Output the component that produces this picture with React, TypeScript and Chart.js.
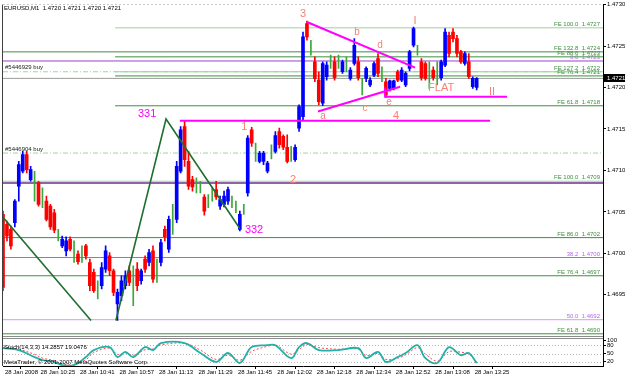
import React, { useEffect, useRef } from 'react';
import { Chart, registerables } from 'chart.js';

Chart.register(...registerables);

// ---------------- data (EURUSD M1, bars numbered 1..121) ----------------
const opens = [
  1.47047, 1.47035, 1.47029, 1.47037, 1.47081, 1.47099, 1.47119, 1.47089, 1.47081, 1.47085,
  1.47069, 1.47063, 1.47057, 1.47049, 1.47021, 1.47009, 1.47003, 1.47017, 1.47003, 1.46999,
  1.46999, 1.47009, 1.46989, 1.46977, 1.46957, 1.46961, 1.46981, 1.46997, 1.46979, 1.46939,
  1.46949, 1.46961, 1.46979, 1.46961, 1.46981, 1.46967, 1.46993, 1.46989, 1.47003, 1.46979,
  1.46989, 1.47029, 1.47005, 1.47041, 1.47041, 1.47099, 1.47153, 1.47111, 1.47089, 1.47081,
  1.47080, 1.47068, 1.47063, 1.47071, 1.47077, 1.47057, 1.47059, 1.47063, 1.47063, 1.47057,
  1.47029, 1.47053, 1.47073, 1.47149, 1.47123, 1.47111, 1.47111, 1.47099, 1.47123, 1.47123,
  1.47147, 1.47141, 1.47128, 1.47121, 1.47113, 1.47151, 1.47165, 1.47277, 1.47249, 1.47231,
  1.47209, 1.47181, 1.47213, 1.47231, 1.47231, 1.47231, 1.47219, 1.47229, 1.47211, 1.47229,
  1.47231, 1.47201, 1.47211, 1.47203, 1.47215, 1.47235, 1.47217, 1.47207, 1.47199, 1.47199,
  1.47219, 1.47209, 1.47203, 1.47223, 1.47251, 1.47245, 1.47231, 1.47229, 1.47215, 1.47221,
  1.47217, 1.47212, 1.47227, 1.47263, 1.47267, 1.47259, 1.47243, 1.47229, 1.47231, 1.47201,
  1.47200,
];
const highs = [
  1.47051, 1.47039, 1.47033, 1.47065, 1.47111, 1.47123, 1.47123, 1.47105, 1.47099, 1.47087,
  1.47079, 1.47069, 1.47059, 1.47053, 1.47029, 1.47021, 1.47020, 1.47020, 1.47015, 1.47003,
  1.47009, 1.47011, 1.46993, 1.46981, 1.46967, 1.46989, 1.47009, 1.47001, 1.46981, 1.46957,
  1.46973, 1.46979, 1.46985, 1.46985, 1.46989, 1.46981, 1.46997, 1.47005, 1.47009, 1.46993,
  1.47017, 1.47033, 1.47045, 1.47059, 1.47111, 1.47153, 1.47160, 1.47123, 1.47093, 1.47091,
  1.47087, 1.47071, 1.47071, 1.47080, 1.47087, 1.47069, 1.47075, 1.47080, 1.47069, 1.47063,
  1.47051, 1.47059, 1.47142, 1.47152, 1.47133, 1.47123, 1.47123, 1.47111, 1.47131, 1.47147,
  1.47151, 1.47143, 1.47143, 1.47129, 1.47131, 1.47179, 1.47267, 1.47280, 1.47257, 1.47237,
  1.47219, 1.47231, 1.47231, 1.47239, 1.47237, 1.47239, 1.47233, 1.47237, 1.47224, 1.47259,
  1.47237, 1.47211, 1.47225, 1.47212, 1.47231, 1.47241, 1.47225, 1.47211, 1.47209, 1.47209,
  1.47221, 1.47224, 1.47219, 1.47245, 1.47273, 1.47251, 1.47235, 1.47231, 1.47231, 1.47225,
  1.47231, 1.47233, 1.47271, 1.47267, 1.47271, 1.47263, 1.47245, 1.47243, 1.47241, 1.47213,
  1.47212,
];
const lows = [
  1.46955, 1.47015, 1.47005, 1.47032, 1.47063, 1.47097, 1.47097, 1.47087, 1.47063, 1.47057,
  1.47055, 1.47039, 1.47029, 1.47025, 1.47015, 1.47007, 1.46997, 1.47003, 1.46989, 1.46987,
  1.46989, 1.46993, 1.46955, 1.46953, 1.46945, 1.46957, 1.46977, 1.46973, 1.46949, 1.46919,
  1.46943, 1.46957, 1.46961, 1.46937, 1.46955, 1.46963, 1.46977, 1.46985, 1.46965, 1.46965,
  1.46985, 1.47015, 1.47001, 1.47023, 1.47037, 1.47097, 1.47105, 1.47077, 1.47075, 1.47073,
  1.47073, 1.47046, 1.47055, 1.47063, 1.47065, 1.47053, 1.47056, 1.47059, 1.47055, 1.47049,
  1.47027, 1.47047, 1.47069, 1.47129, 1.47111, 1.47109, 1.47107, 1.47097, 1.47114, 1.47121,
  1.47127, 1.47125, 1.47109, 1.47111, 1.47111, 1.47147, 1.47161, 1.47257, 1.47239, 1.47207,
  1.47179, 1.47178, 1.47209, 1.47223, 1.47209, 1.47223, 1.47217, 1.47219, 1.47209, 1.47227,
  1.47209, 1.47191, 1.47207, 1.47201, 1.47213, 1.47213, 1.47207, 1.47188, 1.47196, 1.47197,
  1.47207, 1.47207, 1.47201, 1.47220, 1.47249, 1.47239, 1.47209, 1.47209, 1.47199, 1.47209,
  1.47203, 1.47209, 1.47225, 1.47237, 1.47255, 1.47237, 1.47229, 1.47227, 1.47211, 1.47199,
  1.47197,
];
const closes = [
  1.46959, 1.47021, 1.47009, 1.47063, 1.47107, 1.47119, 1.47101, 1.47101, 1.47081, 1.47059,
  1.47069, 1.47041, 1.47032, 1.47028, 1.47021, 1.47017, 1.47015, 1.47005, 1.47003, 1.46990,
  1.46999, 1.46997, 1.46961, 1.46955, 1.46957, 1.46983, 1.47003, 1.46979, 1.46953, 1.46953,
  1.46967, 1.46973, 1.46965, 1.46961, 1.46961, 1.46979, 1.46981, 1.47001, 1.46969, 1.46979,
  1.47013, 1.47020, 1.47041, 1.47041, 1.47105, 1.47149, 1.47113, 1.47081, 1.47080, 1.47081,
  1.47080, 1.47051, 1.47063, 1.47071, 1.47068, 1.47065, 1.47069, 1.47077, 1.47063, 1.47057,
  1.47047, 1.47053, 1.47139, 1.47133, 1.47123, 1.47121, 1.47121, 1.47109, 1.47123, 1.47142,
  1.47131, 1.47128, 1.47111, 1.47121, 1.47128, 1.47177, 1.47261, 1.47261, 1.47249, 1.47211,
  1.47183, 1.47229, 1.47227, 1.47231, 1.47212, 1.47231, 1.47231, 1.47229, 1.47221, 1.47251,
  1.47212, 1.47201, 1.47223, 1.47209, 1.47229, 1.47217, 1.47217, 1.47191, 1.47208, 1.47208,
  1.47209, 1.47221, 1.47217, 1.47243, 1.47271, 1.47245, 1.47212, 1.47211, 1.47215, 1.47212,
  1.47217, 1.47231, 1.47267, 1.47241, 1.47259, 1.47241, 1.47231, 1.47241, 1.47213, 1.47211,
  1.47211,
];

const timeLabels = [
  '28 Jan 2008', '28 Jan 10:25', '28 Jan 10:41', '28 Jan 10:57', '28 Jan 11:13', '28 Jan 11:29',
  '28 Jan 11:45', '28 Jan 12:02', '28 Jan 12:18', '28 Jan 12:34', '28 Jan 12:52', '28 Jan 13:08', '28 Jan 13:25',
];
const timeTickBars = [1, 10, 20, 30, 40, 50, 60, 70, 80, 90, 100, 110, 120];
const priceTicks = [1.4695, 1.47, 1.4705, 1.471, 1.4715, 1.472, 1.4725, 1.473];
const stochTicks = [20, 50, 80, 100];
const stochLevels = [20, 50, 80];

const stochBars = [1, 5, 9, 11, 14, 16, 19, 22, 24, 28, 30, 32, 34, 37, 39, 41, 47, 51, 55, 58, 61, 64, 68, 70, 74, 76, 78, 81, 86, 91, 93, 96, 98, 101, 103, 106, 108, 111, 114, 117, 119, 121];
const stochMain = [70, 63, 37, 26, 19, 7, 7, 37, 63, 74, 37, 56, 37, 74, 63, 89, 89, 52, 19, 52, 15, 74, 81, 81, 33, 74, 89, 63, 63, 70, 33, 56, 19, 37, 52, 81, 33, 15, 74, 44, 52, 14.2857];
const stochSignal = [73, 66, 47, 33, 24, 12, 8, 27, 54, 70, 47, 52, 44, 64, 67, 82, 88, 63, 28, 44, 25, 58, 77, 82, 48, 64, 84, 72, 66, 66, 43, 50, 28, 33, 45, 72, 48, 22, 57, 55, 48, 19.0476];

// horizontal objects: price, first bar, tool, caption
const levelPrices = [1.47272, 1.47243, 1.47237, 1.47232, 1.47219, 1.47219, 1.47214, 1.47211, 1.47178, 1.47121, 1.47087, 1.47085, 1.47019, 1.46995, 1.46973, 1.4692, 1.46903];
const levelFromBars = [29.4, 1, 29.4, 1, 1, 29.4, 29.4, 1, 29.4, 1, 1, 1, 1, 1, 1, 1, 1];
const levelTools = ['FE', 'FE', 'FE', 'FIB', 'ORDER', 'FE', 'FE', 'BID', 'FE', 'ORDER', 'FE', 'FIB', 'FE', 'FIB', 'FE', 'FIB', 'FE'];
const levelTexts = [
  'FE 100.0  1.4727', 'FE 132.8  1.4724', 'FE 88.6  1.4723', '0.0  1.4723', '#5446929 buy', 'FE 127.2  1.4722',
  'FE 76.4  1.4721', '', 'FE 61.8  1.4718', '#5446904 buy', 'FE 100.0  1.4709', '', 'FE 86.0  1.4702',
  '38.2  1.4700', 'FE 76.4  1.4697', '50.0  1.4692', 'FE 61.8  1.4690',
];

// drawn trend lines
const triUpperBars = [78, 105.4];
const triUpperPrices = [1.47279, 1.47224];
const triLowerBars = [80.8, 101.6];
const triLowerPrices = [1.47171, 1.47201];
const flatBoxBars = [97.8, 97.8, 128.7];
const flatBoxPrices = [1.472, 1.47189, 1.47189];
const wave4Bars = [45.8, 124.4];
const wave4Prices = [1.4716, 1.4716];
const zigABars = [0.75, 23.3];
const zigAPrices = [1.47045, 1.46919];
const zigBBars = [29.6, 42.3, 61.0];
const zigBPrices = [1.46919, 1.47162, 1.4703];

// wave annotations
const waveTexts = ['3', 'b', 'd', 'I', 'a', 'c', 'e', '4', 'FLAT', 'II', '1', '2'];
const waveBars = [77.0, 90.7, 96.5, 105.4, 82.1, 92.7, 98.8, 100.6, 112.0, 124.9, 62.1, 74.5];
const wavePrices = [1.47289, 1.47267, 1.47251, 1.47280, 1.47165, 1.47175, 1.47182, 1.47166, 1.47199, 1.47195, 1.47152, 1.47089];
const markTexts = ['331', '332'];
const markBars = [37.5, 64.6];
const markPrices = [1.47168, 1.47028];

const symbolTitle = 'EURUSD,M1  1.4720 1.4721 1.4720 1.4721';
const stochTitle = 'Stoch(14,3,3) 14.2857 19.0476';
const copyright = 'MetaTrader, © 2001-2007 MetaQuotes Software Corp.';

// ---------------- styling ----------------
const FONT = '"Liberation Sans", Arial, sans-serif';
const BLUE = '#0000ff';
const RED = '#ff0000';
const GREEN = '#3aa83a';
const SALMON = '#fa8072';
const MAGENTA = '#ff00ff';
const X_MIN = 1;
const X_MAX = 153;

const dirColor = (k: number) => (closes[k] > opens[k] ? BLUE : closes[k] < opens[k] ? RED : GREEN);
const pts = (bs: number[], ps: number[]) => bs.map((b, k) => ({ x: b, y: ps[k] }));

const LIGHT_FE = new Set([0, 5, 10]);
const FIB_COLORS: Record<number, string> = { 3: '#9a40d0', 11: '#6b2f8f', 13: '#a467d8', 15: '#c9a2ef' };

function levelStyle(k: number) {
  const tool = levelTools[k];
  if (tool === 'ORDER') return { color: '#9fd49f', dash: [5, 2, 1, 2], width: 1 };
  if (tool === 'BID') return { color: '#9a9a9a', dash: [] as number[], width: 1 };
  if (tool === 'FIB') return { color: FIB_COLORS[k] || '#a467d8', dash: [] as number[], width: k === 11 ? 1.5 : 1 };
  return { color: LIGHT_FE.has(k) ? '#9fd09f' : '#3f8f3f', dash: [] as number[], width: 1 };
}

const decorPlugin = {
  id: 'mtDecor',
  beforeDatasetsDraw(chart: any) {
    const { ctx } = chart;
    const x = chart.scales.x;
    const y2 = chart.scales.y2;
    ctx.save();
    ctx.strokeStyle = '#b4b4b4';
    ctx.lineWidth = 1;
    ctx.setLineDash([1, 2]);
    stochLevels.forEach((v) => {
      const py = Math.round(y2.getPixelForValue(v)) + 0.5;
      ctx.beginPath();
      ctx.moveTo(x.left, py);
      ctx.lineTo(x.right, py);
      ctx.stroke();
    });
    ctx.restore();
  },
  afterDatasetsDraw(chart: any) {
    const { ctx } = chart;
    const x = chart.scales.x;
    const y = chart.scales.y;
    const y2 = chart.scales.y2;
    ctx.save();

    // pane frames
    ctx.lineWidth = 1;
    ctx.setLineDash([]);
    ctx.strokeStyle = '#8c8c8c';
    ctx.beginPath();
    ctx.moveTo(x.left, Math.round(y.bottom) - 0.5);
    ctx.lineTo(x.right, Math.round(y.bottom) - 0.5);
    ctx.moveTo(x.left, Math.round(y2.top) + 1.5);
    ctx.lineTo(x.right, Math.round(y2.top) + 1.5);
    ctx.stroke();
    ctx.strokeStyle = '#c8c8c8';
    ctx.setLineDash([2, 2]);
    ctx.beginPath();
    ctx.moveTo(x.left, Math.round(y.top) - 0.5);
    ctx.lineTo(x.right, Math.round(y.top) - 0.5);
    ctx.stroke();
    ctx.setLineDash([]);
    ctx.strokeStyle = '#404040';
    ctx.beginPath();
    ctx.moveTo(Math.round(x.left) - 0.5, y.top);
    ctx.lineTo(Math.round(x.left) - 0.5, y2.bottom);
    ctx.stroke();

    // level captions
    ctx.font = `6px ${FONT}`;
    ctx.textBaseline = 'bottom';
    levelPrices.forEach((p, k) => {
      const t = levelTexts[k];
      if (!t) return;
      const py = y.getPixelForValue(p);
      if (levelTools[k] === 'ORDER') {
        ctx.textAlign = 'left';
        ctx.fillStyle = '#202020';
        ctx.fillText(t, x.left + 2, py - 1);
      } else {
        ctx.textAlign = 'right';
        ctx.fillStyle = levelTools[k] === 'FIB' ? '#b36be6' : '#3f8f3f';
        ctx.fillText(t, x.right - 3, py - 0.5);
      }
    });

    // wave labels
    ctx.textAlign = 'center';
    ctx.textBaseline = 'middle';
    waveTexts.forEach((t, k) => {
      const size = /^[a-e]$/.test(t) ? 10 : 11;
      ctx.font = `${size}px ${FONT}`;
      ctx.fillStyle = SALMON;
      ctx.fillText(t, x.getPixelForValue(waveBars[k]), y.getPixelForValue(wavePrices[k]));
    });
    markTexts.forEach((t, k) => {
      ctx.font = `11px ${FONT}`;
      ctx.fillStyle = MAGENTA;
      ctx.fillText(t, x.getPixelForValue(markBars[k]), y.getPixelForValue(markPrices[k]));
    });

    // titles
    ctx.textAlign = 'left';
    ctx.font = `6px ${FONT}`;
    ctx.fillStyle = '#000';
    ctx.fillText(symbolTitle, x.left + 1, y.top + 4);
    ctx.fillText(stochTitle, x.left + 1, y2.top + 10);
    ctx.fillText(copyright, x.left + 1, y2.bottom - 4);

    // current price marker
    const last = closes[closes.length - 1];
    const py = y.getPixelForValue(last);
    ctx.fillStyle = '#000';
    ctx.fillRect(x.right, Math.round(py) - 4, 22, 8);
    ctx.fillStyle = '#fff';
    ctx.fillText(last.toFixed(4), x.right + 4, py);
    ctx.restore();
  },
};

export default function App() {
  const canvasRef = useRef<HTMLCanvasElement | null>(null);

  useEffect(() => {
    document.body.style.margin = '0';
    const canvas = canvasRef.current;
    if (!canvas) return;

    const barIdx = opens.map((_, k) => k + 1);
    const wickData = barIdx.map((b, k) => ({ x: b, y: [lows[k], highs[k]] }));
    const wickColors = barIdx.map((_, k) => dirColor(k));
    const bodyKeys = barIdx.map((_, k) => k).filter((k) => opens[k] !== closes[k]);
    const bodyData = bodyKeys.map((k) => ({ x: k + 1, y: [Math.min(opens[k], closes[k]), Math.max(opens[k], closes[k])] }));
    const bodyColors = bodyKeys.map((k) => dirColor(k));

    const datasets: any[] = [];
    levelPrices.forEach((p, k) => {
      const st = levelStyle(k);
      datasets.push({
        type: 'line',
        data: [{ x: levelFromBars[k], y: p }, { x: X_MAX, y: p }],
        borderColor: st.color,
        borderWidth: st.width,
        borderDash: st.dash,
        pointRadius: 0,
        xAxisID: 'x',
        yAxisID: 'y',
        order: 6,
      });
    });
    datasets.push({
      type: 'bar', data: wickData, backgroundColor: wickColors, barThickness: 1, grouped: false,
      xAxisID: 'x', yAxisID: 'y', order: 4,
    });
    datasets.push({
      type: 'bar', data: bodyData, backgroundColor: bodyColors, barThickness: 3, grouped: false,
      xAxisID: 'x', yAxisID: 'y', order: 3,
    });
    const trend = (data: any[], color: string, width: number) => ({
      type: 'line', data, borderColor: color, borderWidth: width, pointRadius: 0, tension: 0,
      xAxisID: 'x', yAxisID: 'y', order: 2,
    });
    datasets.push(trend(pts(triUpperBars, triUpperPrices), MAGENTA, 2));
    datasets.push(trend(pts(triLowerBars, triLowerPrices), MAGENTA, 2));
    datasets.push(trend(pts(flatBoxBars, flatBoxPrices), MAGENTA, 2));
    datasets.push(trend(pts(wave4Bars, wave4Prices), MAGENTA, 2));
    datasets.push(trend(pts(zigABars, zigAPrices), '#1f6f2f', 1.6));
    datasets.push(trend(pts(zigBBars, zigBPrices), '#1f6f2f', 1.6));
    datasets.push({
      type: 'line', data: pts(stochBars, stochSignal), borderColor: '#ff4a4a', borderWidth: 1, borderDash: [2, 2],
      pointRadius: 0, tension: 0.35, xAxisID: 'x', yAxisID: 'y2', order: 1,
    });
    datasets.push({
      type: 'line', data: pts(stochBars, stochMain), borderColor: '#22b0a8', borderWidth: 1.8,
      pointRadius: 0, tension: 0.35, xAxisID: 'x', yAxisID: 'y2', order: 0,
    });

    const tickFont = { family: FONT, size: 6 };
    const chart = new Chart(canvas, {
      type: 'bar',
      data: { datasets },
      options: {
        animation: false,
        responsive: false,
        devicePixelRatio: 1,
        events: [],
        layout: { padding: { left: 3, top: 3, right: 0, bottom: 0 } },
        plugins: { legend: { display: false }, tooltip: { enabled: false } },
        scales: {
          x: {
            type: 'linear', min: X_MIN, max: X_MAX, offset: false,
            afterFit: (s: any) => { s.height = 12; },
            afterBuildTicks: (s: any) => { s.ticks = timeTickBars.map((v) => ({ value: v })); },
            ticks: {
              callback: (_v: any, i: number) => timeLabels[i],
              autoSkip: false, maxRotation: 0, minRotation: 0, align: 'start', labelOffset: 2, padding: 0,
              font: tickFont, color: '#000',
            },
            grid: { drawOnChartArea: false, drawTicks: true, tickLength: 3, color: '#000' },
            border: { display: true, color: '#000' },
          },
          y: {
            type: 'linear', position: 'right', stack: 'panes', stackWeight: 334, weight: 0,
            min: 1.46899, max: 1.473,
            afterFit: (s: any) => { s.width = 22; },
            afterBuildTicks: (s: any) => { s.ticks = priceTicks.map((v) => ({ value: v })); },
            ticks: { callback: (v: any) => Number(v).toFixed(4), font: tickFont, color: '#000', padding: 1, autoSkip: false },
            grid: { drawOnChartArea: false, drawTicks: true, tickLength: 3, color: '#000' },
            border: { display: true, color: '#000' },
          },
          y2: {
            type: 'linear', position: 'right', stack: 'panes', stackWeight: 29, weight: 1,
            min: 3.7, max: 111.1,
            afterFit: (s: any) => { s.width = 22; },
            afterBuildTicks: (s: any) => { s.ticks = stochTicks.map((v) => ({ value: v })); },
            ticks: { callback: (v: any) => String(v), font: tickFont, color: '#000', padding: 1, autoSkip: false },
            grid: { drawOnChartArea: false, drawTicks: true, tickLength: 3, color: '#000' },
            border: { display: true, color: '#000' },
          },
        },
      } as any,
      plugins: [decorPlugin],
    });
    return () => chart.destroy();
  }, []);

  return (
    <div style={{ position: 'absolute', left: 0, top: 0, width: 625, height: 378, background: '#fff' }}>
      <canvas ref={canvasRef} width={625} height={378} style={{ display: 'block' }} />
    </div>
  );
}
